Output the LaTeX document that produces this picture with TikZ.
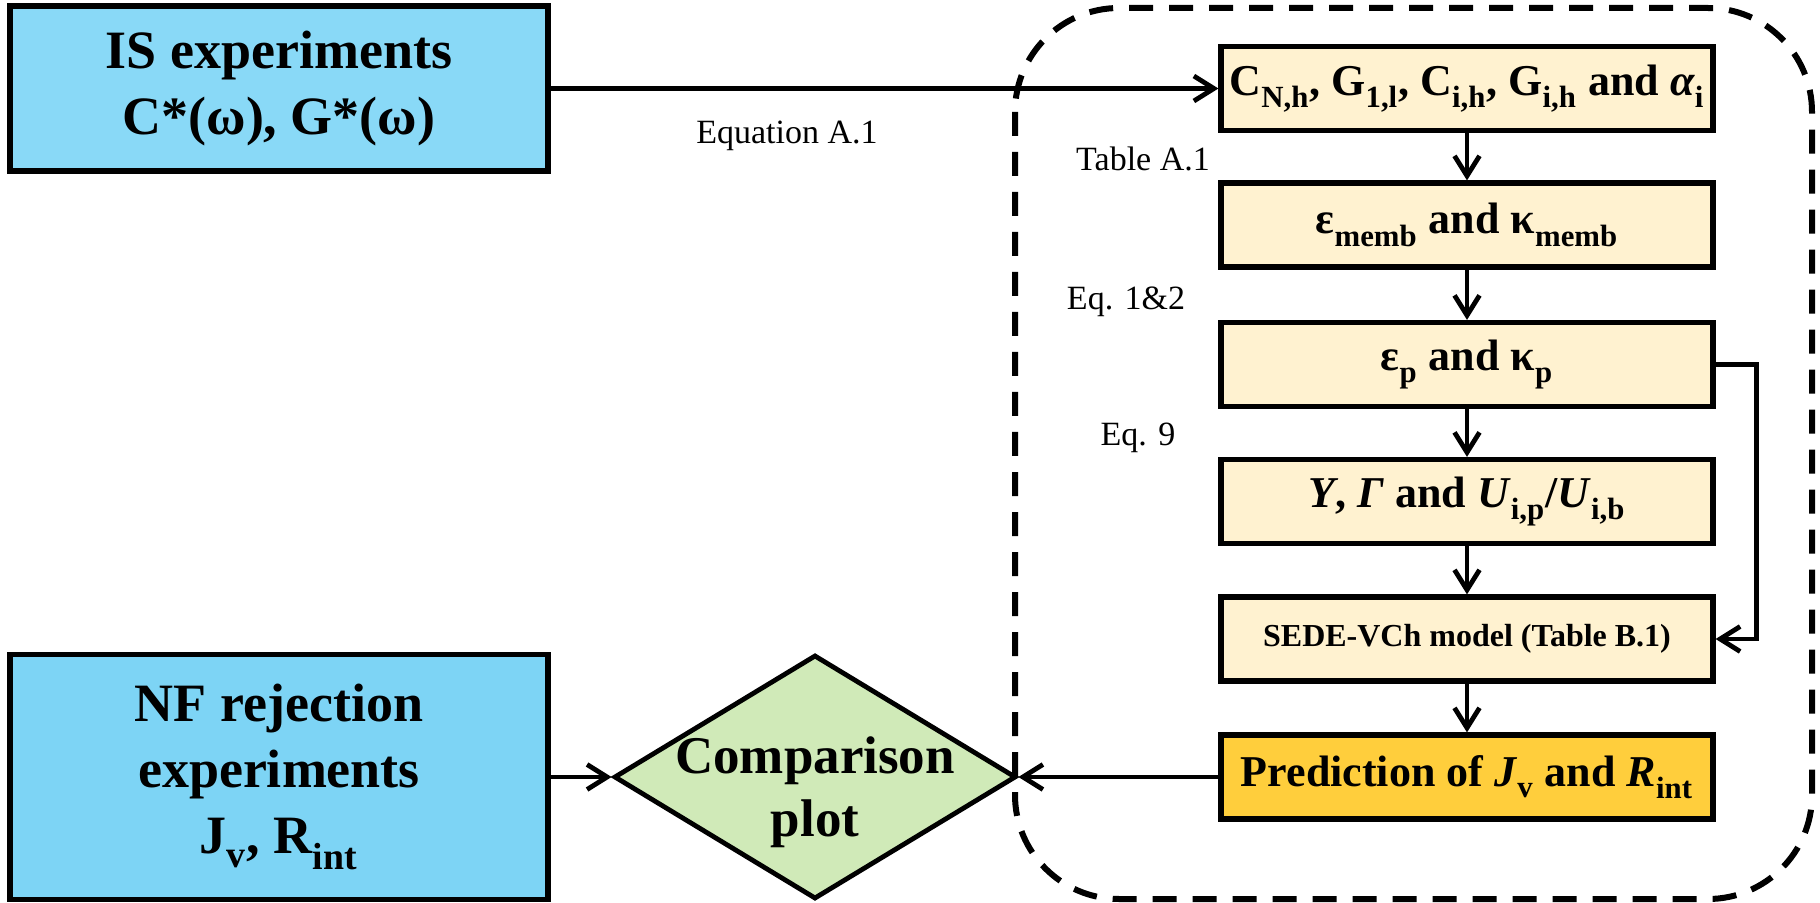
\documentclass[tikz,border=0pt]{standalone}
\usepackage{fontspec}
\setmainfont{Liberation Serif}
\usetikzlibrary{arrows.meta,shapes.geometric}
\newcommand\sbs[1]{\raisebox{-0.12em}{\textsubscript{#1}}}
\definecolor{isblue}{RGB}{137,217,247}
\definecolor{nfblue}{RGB}{125,212,245}
\definecolor{lightyel}{RGB}{255,242,208}
\definecolor{predorange}{RGB}{255,206,60}
\definecolor{cmpgreen}{RGB}{208,234,184}
\begin{document}
\begin{tikzpicture}[x=0.5pt,y=-0.5pt,
  box/.style={draw, line width=2.6pt, inner sep=0pt, align=center},
  bigbox/.style={box, minimum width=269pt, font=\fontsize{27}{33}\selectfont\bfseries},
  stepbox/.style={box, fill=lightyel, minimum width=246pt, minimum height=42pt, font=\fontsize{22}{26}\selectfont\bfseries},
  lbl/.style={inner sep=0pt, font=\fontsize{17}{20}\selectfont},
  arr/.style={line width=2.4pt, -{Straight Barb[length=10pt,width=12.5pt,line width=2.4pt]}},
  dashbox/.style={line width=3pt, dash pattern=on 12pt off 8pt, rounded corners=52pt}
]
\useasboundingbox (0,0) rectangle (1820,903);
% dashed grouping frame
\draw[dashbox] (1015,8) rectangle (1812,899);
% left boxes
\node[bigbox, fill=isblue, minimum height=82.5pt] (is) at (279,88.5) {IS experiments\\C*(ω), G*(ω)};
\node[bigbox, fill=nfblue, minimum height=122.5pt] (nf) at (279,777) {NF rejection\\experiments\\J\sbs{v}, R\sbs{int}};
% comparison diamond
\node[diamond, draw, line width=2.4pt, fill=cmpgreen, minimum width=201pt, minimum height=122pt, inner sep=0pt] (cmp) at (815,777) {};
\node[inner sep=0pt, align=center, font=\fontsize{26.5}{31.5}\selectfont\bfseries] (cmptext) at (815,792) {Comparison\\plot};
% chain of steps
\node[stepbox] (b1) at (1467,88.5) {C\sbs{N,h}, G\sbs{1,l}, C\sbs{i,h}, G\sbs{i,h} and \textit{α}\sbs{i}};
\node[stepbox] (b2) at (1467,225) {ε\sbs{memb} and κ\sbs{memb}};
\node[stepbox] (b3) at (1467,364.5) {ε\sbs{p} and κ\sbs{p}};
\node[stepbox] (b4) at (1467,501.5) {\textit{Y}, \textit{Γ} and \textit{U}\sbs{i,p}/\textit{U}\sbs{i,b}};
\node[stepbox, font=\fontsize{16}{19}\selectfont\bfseries] (b5) at (1467,639) {SEDE-VCh model (Table B.1)};
\node[stepbox, fill=predorange] (b6) at (1467,777) {Prediction of \textit{J}\sbs{v} and \textit{R}\sbs{int}};
% labels
\node[lbl] (eqA) at (787,136) {Equation A.1};
\node[lbl] (tabA) at (1143,159) {Table A.1};
\node[lbl] (eq12) at (1126,302) {Eq. 1\&2};
\node[lbl] (eq9) at (1138,438) {Eq. 9};
% connectors
\draw[arr] (is.east) -- (b1.west);
\draw[arr] (b1) -- (b2);
\draw[arr] (b2) -- (b3);
\draw[arr] (b3) -- (b4);
\draw[arr] (b4) -- (b5);
\draw[arr] (b5) -- (b6);
\draw[arr] (b3.east) -- ++(41,0) |- (b5.east);
\draw[arr] (b6.west) -- (cmp.east);
\draw[arr] (nf.east) -- (cmp.west);
\end{tikzpicture}
\end{document}
